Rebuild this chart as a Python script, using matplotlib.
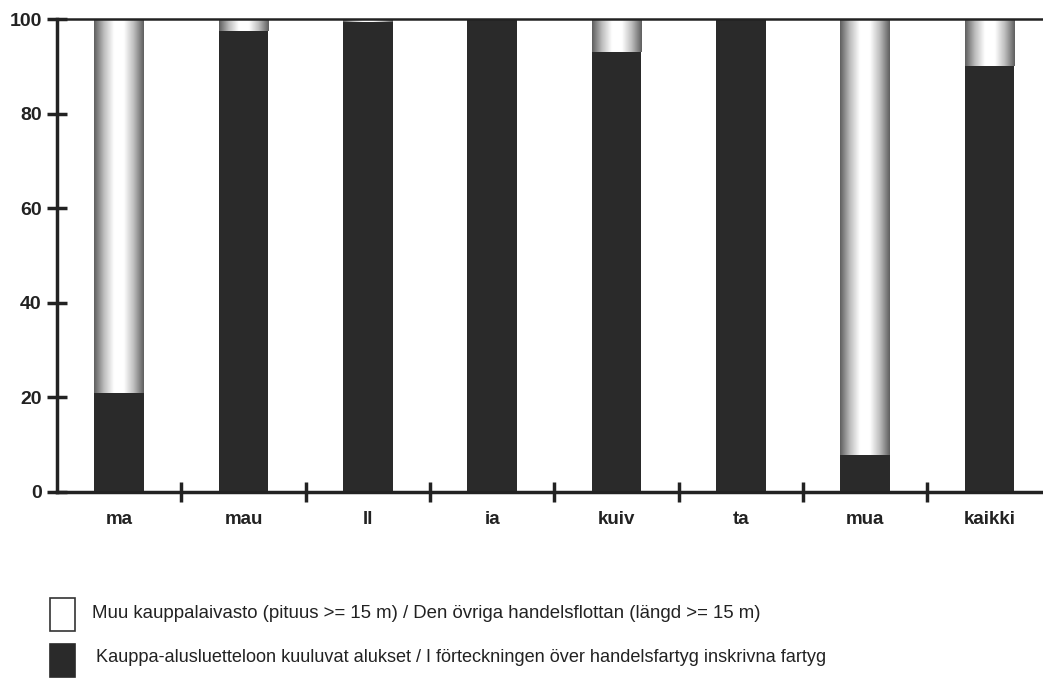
import matplotlib
matplotlib.use("Agg")
import matplotlib.pyplot as plt
import numpy as np
from matplotlib.colors import LinearSegmentedColormap
from matplotlib.patches import Rectangle

categories = ["ma", "mau", "ll", "ia", "kuiv", "ta", "mua", "kaikki"]
registered = [21, 97.5, 99.3, 100, 93, 100, 7.8, 90]
other = [100 - v for v in registered]
legend_labels = [
    "Muu kauppalaivasto (pituus >= 15 m) / Den övriga handelsflottan (längd >= 15 m)",
    "Kauppa-alusluetteloon kuuluvat alukset / I förteckningen över handelsfartyg inskrivna fartyg",
]
yticks = [0, 20, 40, 60, 80, 100]

plt.rcParams['font.family'] = ['Liberation Sans Narrow', 'Liberation Sans', 'DejaVu Sans']

fig = plt.figure(figsize=(10.43, 6.81), dpi=100)
ax = fig.add_axes([57/1043, 189/681, 1 - 57/1043, 473/681])

x = np.arange(len(categories))
w = 0.4
dark = "#2a2a2a"
ax.bar(x, registered, width=w, color=dark, zorder=3)
ax.bar(x, other, width=w, bottom=registered, color="#d8d8d8", zorder=3)

cmap = LinearSegmentedColormap.from_list("cyl", ["#5f5f5f", "#bdbdbd", "#ffffff", "#ffffff", "#bdbdbd", "#5f5f5f"])
grad = np.linspace(0, 1, 200).reshape(1, -1)
for xi, b, h in zip(x, registered, other):
    if h <= 0:
        continue
    im = ax.imshow(grad, cmap=cmap, aspect="auto", extent=(xi - w/2, xi + w/2, b, b + h), zorder=4)
    clip = Rectangle((xi - w/2, b), w, h, transform=ax.transData)
    im.set_clip_path(clip)

ax.set_xlim(-0.5, 7.43)
ax.set_ylim(0, 100)
ax.set_yticks(yticks)
ax.set_yticklabels([str(t) for t in yticks], fontsize=14, fontweight="bold", color="#222222")
ax.set_xticks(x[:-1] + 0.5)
ax.set_xticklabels([])
ax.set_xticks(x, minor=True)
ax.set_xticklabels(categories, minor=True, fontsize=13.5, fontweight="bold", color="#222222")
ax.tick_params(axis="x", which="minor", length=0, pad=14)
ax.tick_params(axis="x", which="major", direction="inout", length=14, width=2.5, color="#222222")
ax.tick_params(axis="y", direction="inout", length=14, width=2.5, pad=4, color="#222222")

ax.spines["right"].set_visible(False)
ax.spines["left"].set_linewidth(2.5)
ax.spines["bottom"].set_linewidth(2.5)
ax.spines["top"].set_linewidth(1.8)
for s in ax.spines.values():
    s.set_color("#222222")
    s.set_zorder(5)

# legend
fig.patches.append(Rectangle((50/1043, 1 - 631/681), 25/1043, 33/681, transform=fig.transFigure,
                             facecolor="white", edgecolor="#333333", linewidth=1.2))
fig.patches.append(Rectangle((50/1043, 1 - 677/681), 25/1043, 33/681, transform=fig.transFigure,
                             facecolor=dark, edgecolor=dark, linewidth=1.2))
fig.text(92/1043, 1 - 614/681, legend_labels[0], fontsize=13.4, va="center", color="#222222")
fig.text(96/1043, 1 - 658/681, legend_labels[1], fontsize=13.1, va="center", color="#222222")

fig.savefig("out.png", dpi=100)
